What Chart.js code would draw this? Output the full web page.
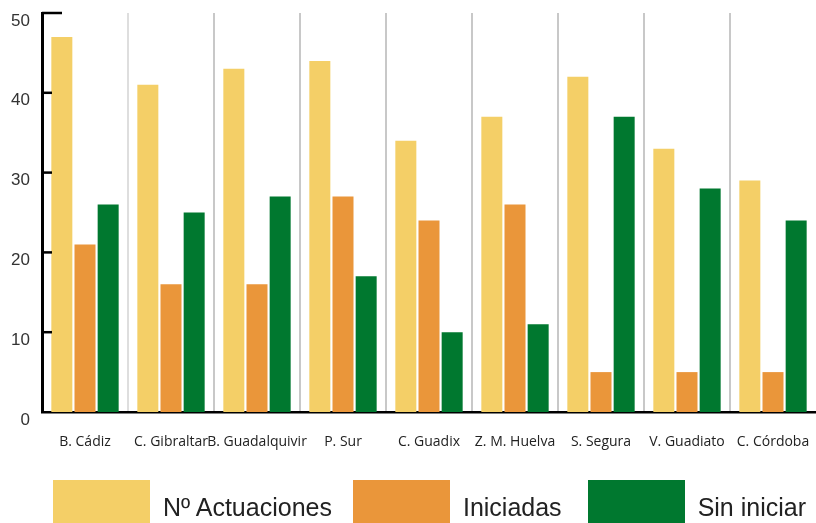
<!DOCTYPE html>
<html lang="es">
<head>
<meta charset="utf-8">
<title>Actuaciones por zona</title>
<script src="https://cdn.jsdelivr.net/npm/chart.js@4.4.1/dist/chart.umd.min.js"></script>
<style>
    html, body {
        margin: 0;
        padding: 0;
        background: #fff;
    }
    .chart-wrap {
        position: relative;
        width: 816px;
        height: 523px;
        overflow: hidden;
    }
    #legend {
        position: absolute;
        left: 53px;
        top: 480px;
        width: 800px;
        display: flex;
        white-space: nowrap;
        font-family: "Liberation Sans", Arial, sans-serif;
        font-size: 25px;
        color: #222;
    }
    .legend-item {
        display: flex;
        flex-shrink: 0;
        align-items: flex-start;
        margin-right: 21px;
    }
    .legend-item:nth-child(2) {
        margin-right: 26px;
    }
    .legend-box {
        width: 97px;
        height: 50px;
        flex-shrink: 0;
    }
    .legend-text {
        margin-left: 13px;
        line-height: 43px;
        padding-top: 6px;
    }
</style>
</head>
<body>
<div class="chart-wrap">
    <canvas id="actuacionesChart" width="816" height="523"></canvas>
    <div id="legend"></div>
</div>

<script>
// Data
const zonas = ['B. Cádiz', 'C. Gibraltar', 'B. Guadalquivir', 'P. Sur', 'C. Guadix',
    'Z. M. Huelva', 'S. Segura', 'V. Guadiato', 'C. Córdoba'];
const actuaciones = [47, 41, 43, 44, 34, 37, 42, 33, 29];
const iniciadas = [21, 16, 16, 27, 24, 26, 5, 5, 5];
const sinIniciar = [26, 25, 27, 17, 10, 11, 37, 28, 24];
const yTicks = [0, 10, 20, 30, 40, 50];

const seriesNames = ['Nº Actuaciones', 'Iniciadas', 'Sin iniciar'];
const seriesColors = ['#F4CF67', '#EA963A', '#00782F'];

// Short inward tick marks on the value axis
const innerTicks = {
    id: 'innerTicks',
    afterDraw(chart) {
        const { ctx, chartArea, scales } = chart;
        const y = scales.y;
        ctx.save();
        ctx.strokeStyle = '#000';
        ctx.lineWidth = 2.5;
        yTicks.forEach((v) => {
            if (v === 0) return;
            const py = y.getPixelForValue(v);
            const len = v === yTicks[yTicks.length - 1] ? 20 : 10;
            ctx.beginPath();
            ctx.moveTo(chartArea.left, py);
            ctx.lineTo(chartArea.left + len, py);
            ctx.stroke();
        });
        ctx.restore();
    }
};

// keep label overhang from shrinking the plot area
function noPadding(scale) {
    scale.paddingTop = 0;
    scale.paddingBottom = 0;
    scale.paddingLeft = 0;
    scale.paddingRight = 0;
}

document.addEventListener('DOMContentLoaded', function () {
    const ctx = document.getElementById('actuacionesChart').getContext('2d');

    const chart = new Chart(ctx, {
        type: 'bar',
        data: {
            labels: zonas,
            datasets: [actuaciones, iniciadas, sinIniciar].map((values, i) => ({
                label: seriesNames[i],
                data: values,
                backgroundColor: seriesColors[i],
                borderWidth: 0,
                categoryPercentage: 0.808,
                barPercentage: 0.907
            }))
        },
        options: {
            responsive: false,
            animation: false,
            layout: {
                padding: { top: 13, left: 0, right: 0, bottom: 53 }
            },
            plugins: {
                legend: { display: false },
                tooltip: { enabled: false }
            },
            scales: {
                x: {
                    z: 1, // axis line on top of the bar bases
                    offset: true,
                    grid: {
                        offset: true,
                        drawTicks: false,
                        lineWidth: 2,
                        color: (c) => {
                            if (c.index === undefined || c.index === 0) return 'rgba(0,0,0,0)';
                            return c.index === 1 ? '#dedede' : '#c8c8c8';
                        }
                    },
                    border: { color: '#000', width: 2.5 },
                    ticks: {
                        autoSkip: false,
                        maxRotation: 0,
                        minRotation: 0,
                        padding: 22,
                        color: '#222',
                        font: { family: '"Open Sans", sans-serif', size: 14 }
                    },
                    afterFit(scale) {
                        scale.height = 58;
                        noPadding(scale);
                    }
                },
                y: {
                    min: 0,
                    max: 50,
                    afterBuildTicks(scale) {
                        scale.ticks = yTicks.map((v) => ({ value: v }));
                    },
                    grid: { display: false, drawTicks: false },
                    border: { color: '#000', width: 3 },
                    ticks: {
                        padding: 12,
                        labelOffset: 8,
                        color: '#333',
                        font: { family: '"Liberation Sans", Arial, sans-serif', size: 17 }
                    },
                    afterFit(scale) {
                        scale.width = 42;
                        noPadding(scale);
                    }
                }
            }
        },
        plugins: [innerTicks]
    });

    // HTML legend built from the datasets
    const legendEl = document.getElementById('legend');
    chart.data.datasets.forEach((ds) => {
        const item = document.createElement('div');
        item.className = 'legend-item';
        const box = document.createElement('span');
        box.className = 'legend-box';
        box.style.backgroundColor = ds.backgroundColor;
        const text = document.createElement('span');
        text.className = 'legend-text';
        text.textContent = ds.label;
        item.appendChild(box);
        item.appendChild(text);
        legendEl.appendChild(item);
    });
});
</script>
</body>
</html>
